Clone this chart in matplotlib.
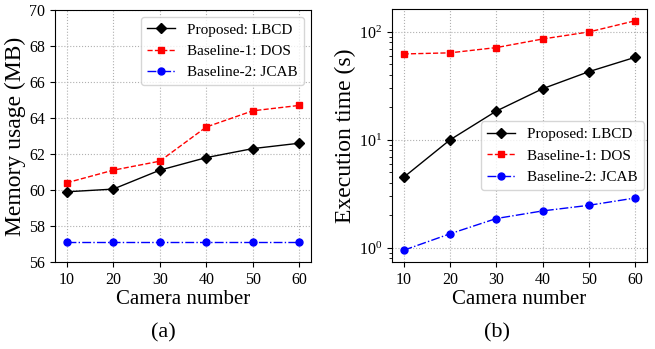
import matplotlib.pyplot as plt

plt.rcParams["font.family"] = ["Liberation Serif", "DejaVu Serif"]
plt.rcParams["mathtext.fontset"] = "stix"

cameras = [10, 20, 30, 40, 50, 60]

# (a) memory usage (MB)
mem_lbcd = [59.9, 60.05, 61.1, 61.8, 62.3, 62.6]
mem_dos = [60.4, 61.1, 61.6, 63.5, 64.4, 64.7]
mem_jcab = [57.1, 57.1, 57.1, 57.1, 57.1, 57.1]

# (b) execution time (s)
time_lbcd = [4.5, 10.0, 18.5, 29.8, 42.9, 58.3]
time_dos = [62.5, 64.0, 71.6, 86.0, 100.0, 127.0]
time_jcab = [0.95, 1.35, 1.87, 2.2, 2.48, 2.9]

labels = ["Proposed: LBCD", "Baseline-1: DOS", "Baseline-2: JCAB"]
styles = [
    dict(color="black", linestyle="-", marker="D", markersize=5),
    dict(color="red", linestyle="--", marker="s", markersize=5),
    dict(color="blue", linestyle="-.", marker="o", markersize=5),
]

fig = plt.figure(figsize=(6.55, 3.49), dpi=100)
ax1 = fig.add_axes([55 / 655, 1 - 262 / 349, 256 / 655, 252 / 349])
ax2 = fig.add_axes([392 / 655, 1 - 262 / 349, 255 / 655, 253 / 349])

for ys, lab, st in zip([mem_lbcd, mem_dos, mem_jcab], labels, styles):
    ax1.plot(cameras, ys, label=lab, linewidth=1.0, **st)
for ys, lab, st in zip([time_lbcd, time_dos, time_jcab], labels, styles):
    ax2.plot(cameras, ys, label=lab, linewidth=1.0, **st)

ax1.set_ylim(56, 70)
ax1.set_yticks(range(56, 71, 2))
ax1.set_ylabel("Memory usage (MB)", fontsize=17, labelpad=2)
ax1.legend(loc="upper right", fontsize=11, handlelength=1.85,
           borderaxespad=0.45)

ax2.set_yscale("log")
ax2.set_ylim(0.74, 163)
ax2.set_ylabel("Execution time (s)", fontsize=17, labelpad=2)
ax2.legend(loc="center right", fontsize=11, handlelength=1.85,
           bbox_to_anchor=(1.0, 0.42), borderaxespad=0.2)

for ax in (ax1, ax2):
    ax.set_xticks(cameras)
    ax.set_xlabel("Camera number", fontsize=15, labelpad=2)
    ax.tick_params(labelsize=11.5)
    ax.grid(True, linestyle=":", color="#b0b0b0", linewidth=0.8)

fig.text(163 / 655, 1 - 333 / 349, "(a)", ha="center", va="center", fontsize=16)
fig.text(497 / 655, 1 - 333 / 349, "(b)", ha="center", va="center", fontsize=16)

fig.savefig("out.png", dpi=100)
